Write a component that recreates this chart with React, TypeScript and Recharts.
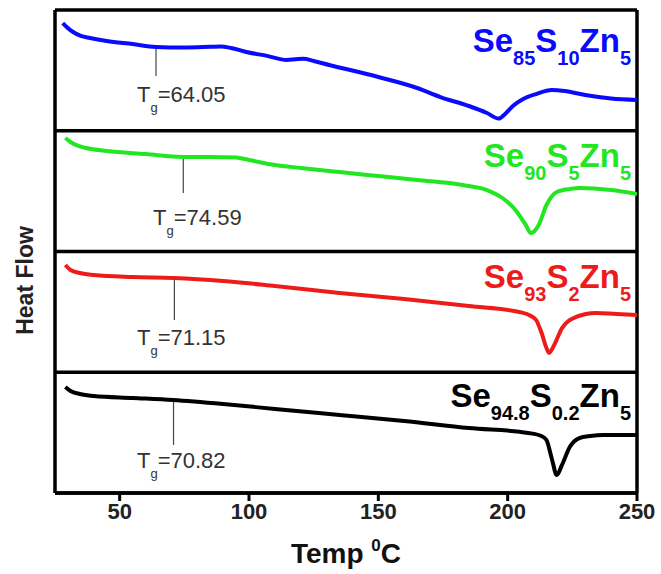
import { ComposedChart, Line, XAxis, YAxis, ReferenceLine, ReferenceDot } from "recharts";

const FONT = '"Liberation Sans", Arial, Helvetica, sans-serif';

// temperature (°C), relative heat flow (panel units, 0 = panel bottom, 100 = panel top)
const se85s10zn5: [number, number][] = [
  [28, 89.2], [30, 85], [32, 81.8], [35, 78.5], [38.5, 76.8], [45, 74.3], [55, 71.8], [64, 69.4],
  [75, 68.9], [85, 69.5], [89, 69.8], [93, 68.6], [99, 65.2], [107, 62.0], [114.6, 58.6], [118, 59.2],
  [121, 59.6], [125, 57.8], [131, 54.5], [150, 44.5], [165, 35.4], [174, 27.9], [185, 20.5], [192, 14.7],
  [196.5, 10.1], [199, 13.9], [202, 20.5], [206, 26.3], [211, 30.4], [217, 33.7], [222, 32.9], [230, 29.6],
  [240, 26.7], [250, 25.5],
];
const se90s5zn5: [number, number][] = [
  [29, 94.0], [31, 90.7], [34, 87.4], [37, 85.7], [45, 83.2], [60, 80.7], [74.5, 78.3], [85, 78.3],
  [95, 77.8], [100, 75.8], [110, 71.6], [120, 69.2], [135, 65.8], [150, 62.5], [165, 59.2], [182.5, 55.1],
  [192, 50.9], [198, 44.3], [203, 34.4], [207, 22], [209, 15.3], [212, 22], [215, 38.5], [219, 49.3],
  [224, 51.8], [228, 52.6], [240, 50.9], [250, 47.6],
];
const se93s2zn5: [number, number][] = [
  [29, 88.8], [31, 84.7], [34.6, 82.2], [40, 80.5], [55, 78.9], [71, 78.1], [90, 75.6], [110, 71.4],
  [135, 65.6], [160, 60.7], [185, 54.9], [204.5, 49.9], [209, 46.6], [211, 43.3], [213, 33.3], [215, 20.1],
  [216, 16.0], [218, 22.6], [221, 36.6], [226.5, 45.8], [234, 49.1], [242, 48.2], [250, 47.4],
];
const se948s02zn5: [number, number][] = [
  [29, 87.8], [31, 84.5], [34.6, 82.0], [40, 80.3], [55, 78.7], [70.6, 77.0], [90, 73.7], [110, 69.6],
  [135, 64.6], [160, 59.6], [185, 53.8], [208, 49.7], [213, 47.2], [215, 43.9], [217, 29], [219, 14.9],
  [221, 23.2], [224, 38.1], [227.7, 45.5], [232, 47.2], [237, 48], [250, 48],
];

const compositions = [
  ["Se", "85", "S", "10", "Zn", "5"],
  ["Se", "90", "S", "5", "Zn", "5"],
  ["Se", "93", "S", "2", "Zn", "5"],
  ["Se", "94.8", "S", "0.2", "Zn", "5"],
];
const tgValues = ["64.05", "74.59", "71.15", "70.82"];
const xTicks = [50, 100, 150, 200, 250];

const colors = ["#0a0aff", "#22e622", "#ee1b1b", "#000000"];
// annotation placement inside each panel (panel units)
const tgMarks = [
  { top: 69.4, bottom: 45.3, labelT: 56.7, labelY: 23.8 },
  { top: 78.3, bottom: 48.4, labelT: 62.9, labelY: 21.9 },
  { top: 78.1, bottom: 43.3, labelT: 56.7, labelY: 22.6 },
  { top: 77.0, bottom: 39.8, labelT: 56.7, labelY: 20.7 },
];
const titleY = [65.2, 70.2, 69.8, 71.4];

const PANEL = 100;
const curves = [se85s10zn5, se90s5zn5, se93s2zn5, se948s02zn5].map((pts, i) => ({
  color: colors[i],
  offset: (3 - i) * PANEL,
  data: pts.map(([t, v]) => ({ t, v: v + (3 - i) * PANEL })),
}));

function Title({ cx, cy, color, parts }: any) {
  return (
    <text x={cx - 6} y={cy} textAnchor="end" fill={color} fontFamily={FONT} fontWeight="bold" fontSize={33}>
      {parts[0]}
      <tspan dy={13} fontSize={20}>{parts[1]}</tspan>
      <tspan dy={-13}>{parts[2]}</tspan>
      <tspan dy={13} fontSize={20}>{parts[3]}</tspan>
      <tspan dy={-13}>{parts[4]}</tspan>
      <tspan dy={13} fontSize={20}>{parts[5]}</tspan>
    </text>
  );
}

function TgLabel({ cx, cy, tg }: any) {
  return (
    <text x={cx} y={cy} fill="#333" fontFamily={FONT} fontSize={22}>
      T<tspan dy={10} fontSize={13}>g</tspan>
      <tspan dy={-10}>={tg}</tspan>
    </text>
  );
}

export default function App() {
  return (
    <div style={{ position: "absolute", left: 0, top: 0, width: 661, height: 574, background: "#fff" }}>
      <ComposedChart width={661} height={574} margin={{ top: 10, right: 24, left: 0, bottom: 21 }}>
        <XAxis
          dataKey="t"
          type="number"
          domain={[25, 250]}
          ticks={xTicks}
          allowDataOverflow
          height={60}
          axisLine={{ stroke: "#000", strokeWidth: 3.5 }}
          tickLine={{ stroke: "#000", strokeWidth: 3 }}
          tickSize={8}
          tick={{ fill: "#222", fontSize: 22, fontWeight: "bold", fontFamily: FONT }}
          label={{
            content: ({ viewBox }: any) => (
              <text x={viewBox.x + viewBox.width / 2} y={viewBox.y + 70} textAnchor="middle" fill="#111" fontFamily={FONT} fontWeight="bold" fontSize={28}>
                Temp <tspan dy={-12} fontSize={17}>0</tspan><tspan dy={12}>C</tspan>
              </text>
            ),
          }}
        />
        <YAxis
          type="number"
          domain={[0, 400]}
          width={55}
          tick={false}
          axisLine={false}
          tickLine={false}
          label={{
            content: ({ viewBox }: any) => (
              <text
                transform={`translate(${viewBox.x + 33}, ${viewBox.y + viewBox.height * 0.56}) rotate(-90)`}
                textAnchor="middle"
                fill="#222"
                fontFamily={FONT}
                fontWeight="bold"
                fontSize={23}
              >
                Heat Flow
              </text>
            ),
          }}
        />
        {[0, 100, 200, 300, 400].map((y) => (
          <ReferenceLine key={"h" + y} y={y} stroke="#000" strokeWidth={3.5} />
        ))}
        <ReferenceLine x={25} stroke="#000" strokeWidth={3.5} />
        <ReferenceLine x={250} stroke="#000" strokeWidth={3.5} />
        {curves.map((c, i) => (
          <ReferenceLine
            key={"tg" + i}
            segment={[
              { x: Number(tgValues[i]), y: tgMarks[i].top + c.offset },
              { x: Number(tgValues[i]), y: tgMarks[i].bottom + c.offset },
            ]}
            stroke="#444"
            strokeWidth={1.2}
          />
        ))}
        {curves.map((c, i) => (
          <Line
            key={"l" + i}
            data={c.data}
            dataKey="v"
            type="monotone"
            stroke={c.color}
            strokeWidth={4}
            dot={false}
            activeDot={false}
            isAnimationActive={false}
          />
        ))}
        {curves.map((c, i) => (
          <ReferenceDot
            key={"tl" + i}
            x={tgMarks[i].labelT}
            y={tgMarks[i].labelY + c.offset}
            r={0}
            shape={(p: any) => <TgLabel cx={p.cx} cy={p.cy} tg={tgValues[i]} />}
          />
        ))}
        {curves.map((c, i) => (
          <ReferenceDot
            key={"ti" + i}
            x={250}
            y={titleY[i] + c.offset}
            r={0}
            shape={(p: any) => <Title cx={p.cx} cy={p.cy} color={c.color} parts={compositions[i]} />}
          />
        ))}
      </ComposedChart>
    </div>
  );
}
